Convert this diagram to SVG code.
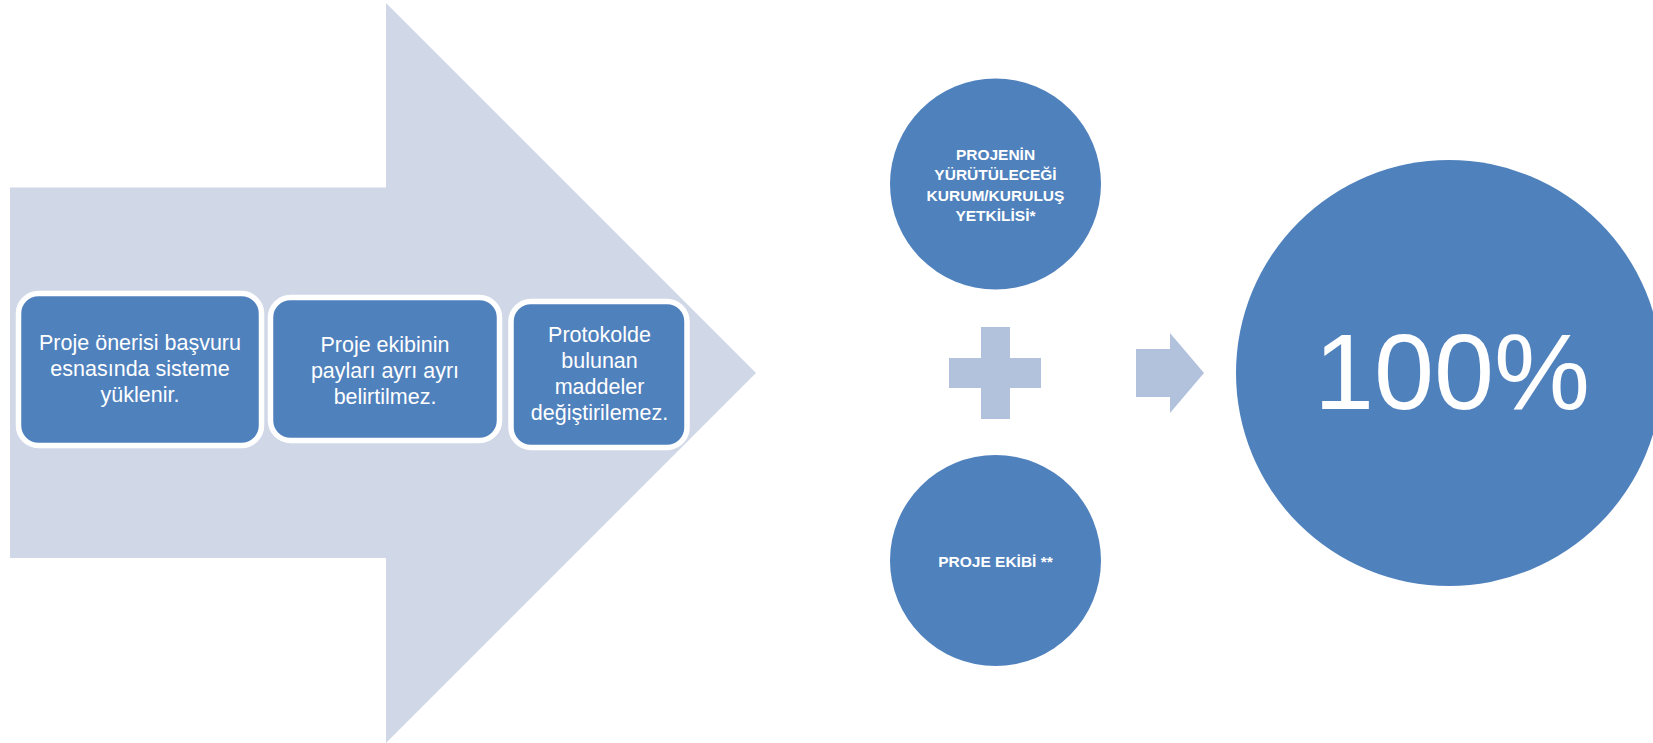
<svg xmlns="http://www.w3.org/2000/svg" width="1653" height="743" viewBox="0 0 1653 743">
<style>
.bg{fill:#FFFFFF}
.bigarrow{fill:#D0D8E8}
.box{fill:#4F81BD;stroke:#FFFFFF;stroke-width:5.5}
.sym{fill:#B2C2DD}
.circ{fill:#4F81BD}
.bt{font-family:"Liberation Sans",Arial,sans-serif;font-size:21.5px;fill:#FFFFFF;text-anchor:middle}
.ct{font-family:"Liberation Sans",Arial,sans-serif;font-size:15.5px;font-weight:bold;fill:#FFFFFF;text-anchor:middle}
.pt{font-family:"Liberation Sans",Arial,sans-serif;font-size:108px;fill:#FFFFFF;text-anchor:middle}
</style>
<rect class="bg" x="0" y="0" width="1653" height="743"/>
<g id="big-arrow">
<polygon class="bigarrow" points="10,187.5 386,187.5 386,3 756,373 386,743 386,558 10,558"/>
</g>
<g id="box1">
<rect class="box" x="18.5" y="293.5" width="243" height="152" rx="20" ry="20"/>
<text class="bt" x="140" y="350">Proje önerisi başvuru</text>
<text class="bt" x="140" y="376">esnasında sisteme</text>
<text class="bt" x="140" y="402">yüklenir.</text>
</g>
<g id="box2">
<rect class="box" x="270.5" y="297.5" width="229" height="143" rx="20" ry="20"/>
<text class="bt" x="385" y="352">Proje ekibinin</text>
<text class="bt" x="385" y="378">payları ayrı ayrı</text>
<text class="bt" x="385" y="404">belirtilmez.</text>
</g>
<g id="box3">
<rect class="box" x="511" y="301.5" width="176" height="146" rx="20" ry="20"/>
<text class="bt" x="599.5" y="342">Protokolde</text>
<text class="bt" x="599.5" y="368">bulunan</text>
<text class="bt" x="599.5" y="394">maddeler</text>
<text class="bt" x="599.5" y="420">değiştirilemez.</text>
</g>
<g id="circle-top">
<circle class="circ" cx="995.5" cy="184" r="105.5"/>
<text class="ct" x="995.5" y="159.5">PROJENİN</text>
<text class="ct" x="995.5" y="180">YÜRÜTÜLECEĞİ</text>
<text class="ct" x="995.5" y="200.5">KURUM/KURULUŞ</text>
<text class="ct" x="995.5" y="221">YETKİLİSİ*</text>
</g>
<g id="circle-bottom">
<circle class="circ" cx="995.5" cy="560.5" r="105.5"/>
<text class="ct" x="995.5" y="567">PROJE EKİBİ **</text>
</g>
<g id="plus">
<polygon class="sym" points="981,327 1010,327 1010,358 1041,358 1041,388 1010,388 1010,419 981,419 981,388 949,388 949,358 981,358"/>
</g>
<g id="connectors">
<polygon class="sym" points="1136,349 1170,349 1170,333 1204,373 1170,413 1170,397 1136,397"/>
</g>
<g id="circle-result">
<circle class="circ" cx="1449" cy="373" r="213"/>
<text class="pt" x="1452" y="409">100%</text>
</g>
</svg>
